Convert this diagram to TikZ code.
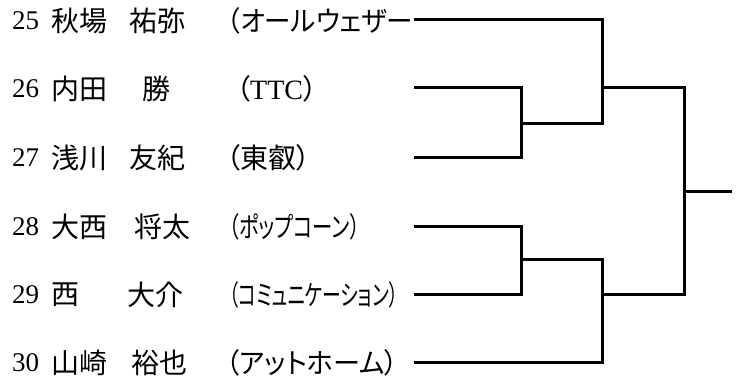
\documentclass[tikz,border=0pt]{standalone}
\usepackage{fontspec}
\usepackage{graphicx}
\setmainfont{Liberation Serif}
\newfontfamily\jp[RawFeature=+palt]{Noto Sans CJK JP}
\tikzset{
  num/.style={anchor=west, inner sep=0pt, font=\fontsize{27}{30}\selectfont},
  entry/.style={anchor=west, inner sep=0pt, font=\fontsize{28}{30}\selectfont\jp},
  bracket/.style={line width=3pt}
}

\begin{document}
\begin{tikzpicture}[x=1pt,y=-1pt]
		\useasboundingbox (0,0) rectangle (743,385);
		%%%%% PLAYERS %%%%%
		
		\node[num] (n25) at (12,21) {25};
		\node[entry] (s25) at (51,21) {秋場};
		\node[entry] (g25) at (129,21) {祐弥};
		\node[entry] (t25) at (227,21) {\resizebox{186pt}{\height}{（オールウェザー}};
		
		\node[num] (n26) at (12,89) {26};
		\node[entry] (s26) at (51,89) {内田};
		\node[entry] (g26) at (142,89) {勝};
		\node[entry] (t26) at (236,89) {（{\rmfamily TTC}）};
		
		\node[num] (n27) at (12,158) {27};
		\node[entry] (s27) at (51,158) {浅川};
		\node[entry] (g27) at (129,158) {友紀};
		\node[entry] (t27) at (226,158) {（東叡）};
		
		\node[num] (n28) at (12,227) {28};
		\node[entry] (s28) at (51,227) {大西};
		\node[entry] (g28) at (134,227) {将太};
		\node[entry] (t28) at (229,227) {\resizebox{131pt}{\height}{（ポップコーン）}};
		
		\node[num] (n29) at (12,295) {29};
		\node[entry] (s29) at (51,295) {西};
		\node[entry] (g29) at (127,295) {大介};
		\node[entry] (t29) at (229,295) {\resizebox{169pt}{\height}{（コミュニケーション）}};
		
		\node[num] (n30) at (12,363) {30};
		\node[entry] (s30) at (51,363) {山崎};
		\node[entry] (g30) at (131,363) {裕也};
		\node[entry] (t30) at (226,363) {\resizebox{172pt}{\height}{（アットホーム）}};
		
		%%%%% BRACKET %%%%%
		
		\coordinate (e25) at (414,20);
		\coordinate (e26) at (414,88);
		\coordinate (e27) at (414,157);
		\coordinate (e28) at (414,226);
		\coordinate (e29) at (414,294);
		\coordinate (e30) at (414,362);
		
		\coordinate (m2627) at (521,123);
		\coordinate (m2829) at (521,259);
		\coordinate (top) at (602,88);
		\coordinate (bot) at (602,294);
		\coordinate (fin) at (684,191);
		\coordinate (win) at (732,191);
		
		\draw[bracket] (e26) -| (m2627) |- (e27);
		\draw[bracket] (e28) -| (m2829) |- (e29);
		
		\draw[bracket] (e25) -| (top);
		\draw[bracket] (m2627) -| (top);
		\draw[bracket] (m2829) -| (bot);
		\draw[bracket] (e30) -| (bot);
		
		\draw[bracket] (top) -| (fin) |- (bot);
		\draw[bracket] (fin) -- (win);
		
		%%%%% END %%%%%
\end{tikzpicture}
\end{document}
